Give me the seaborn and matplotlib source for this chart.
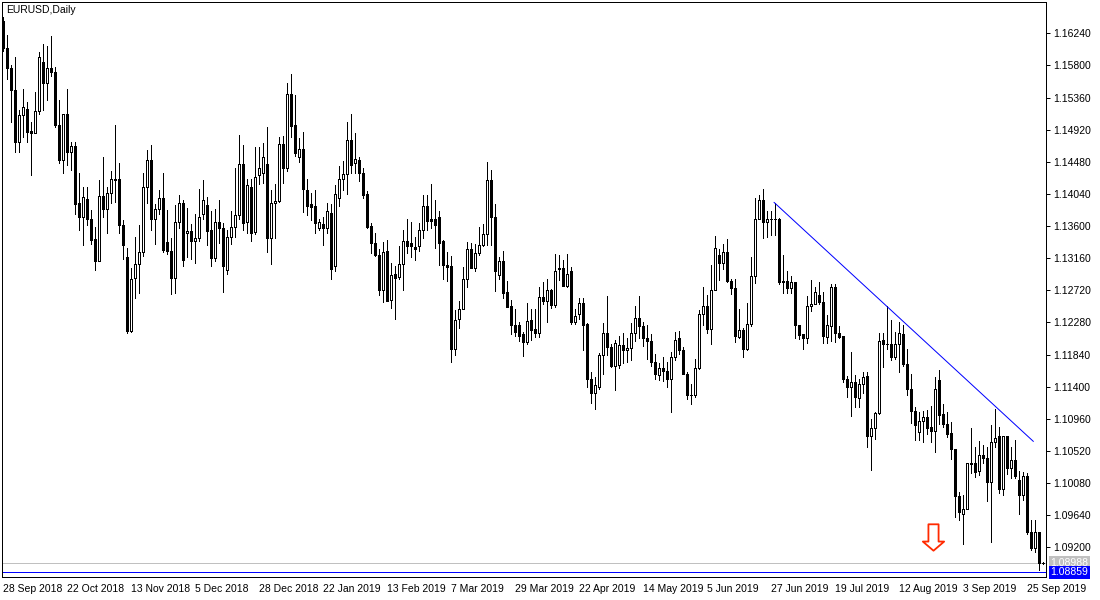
import numpy as np
import pandas as pd
import seaborn as sns
import matplotlib
matplotlib.use('Agg')
import matplotlib.pyplot as plt
from matplotlib.path import Path
from matplotlib.transforms import blended_transform_factory

# EURUSD daily, 28 Sep 2018 .. 1 Oct 2019
opens = [
    1.1641, 1.1604, 1.1577, 1.1546, 1.1475, 1.1512, 1.1520, 1.1490, 1.1488, 1.1517,
    1.1585, 1.1556, 1.1577, 1.1571, 1.1499, 1.1450, 1.1514, 1.1462, 1.1469, 1.1391,
    1.1373, 1.1397, 1.1370, 1.1342, 1.1312, 1.1401, 1.1384, 1.1405, 1.1425, 1.1424,
    1.1362, 1.1317, 1.1216, 1.1289, 1.1308, 1.1324, 1.1413, 1.1451, 1.1369, 1.1383,
    1.1399, 1.1338, 1.1326, 1.1289, 1.1365, 1.1391, 1.1350, 1.1353, 1.1340, 1.1343,
    1.1376, 1.1389, 1.1355, 1.1316, 1.1366, 1.1357, 1.1300, 1.1345, 1.1359, 1.1375,
    1.1445, 1.1365, 1.1414, 1.1352, 1.1430, 1.1432, 1.1445, 1.1343, 1.1391, 1.1394,
    1.1472, 1.1439, 1.1541, 1.1498, 1.1455, 1.1466, 1.1410, 1.1390, 1.1387, 1.1358,
    1.1363, 1.1358, 1.1378, 1.1305, 1.1399, 1.1424, 1.1431, 1.1478, 1.1446, 1.1450,
    1.1433, 1.1404, 1.1360, 1.1337, 1.1320, 1.1273, 1.1326, 1.1259, 1.1294, 1.1290,
    1.1308, 1.1339, 1.1337, 1.1331, 1.1332, 1.1355, 1.1388, 1.1369, 1.1369, 1.1372,
    1.1339, 1.1306, 1.1305, 1.1192, 1.1233, 1.1247, 1.1287, 1.1329, 1.1303, 1.1323,
    1.1334, 1.1349, 1.1423, 1.1372, 1.1293, 1.1312, 1.1269, 1.1250, 1.1225, 1.1225,
    1.1212, 1.1201, 1.1232, 1.1219, 1.1213, 1.1263, 1.1258, 1.1273, 1.1252, 1.1302,
    1.1303, 1.1278, 1.1298, 1.1229, 1.1239, 1.1255, 1.1226, 1.1151, 1.1132, 1.1139,
    1.1183, 1.1214, 1.1194, 1.1169, 1.1170, 1.1197, 1.1190, 1.1193, 1.1214, 1.1234,
    1.1223, 1.1206, 1.1203, 1.1174, 1.1156, 1.1166, 1.1161, 1.1151, 1.1180, 1.1206,
    1.1190, 1.1158, 1.1129, 1.1128, 1.1166, 1.1240, 1.1251, 1.1219, 1.1273, 1.1321,
    1.1310, 1.1324, 1.1285, 1.1275, 1.1208, 1.1217, 1.1192, 1.1226, 1.1292, 1.1369,
    1.1396, 1.1366, 1.1369, 1.1370, 1.1369, 1.1284, 1.1285, 1.1275, 1.1284, 1.1224,
    1.1212, 1.1206, 1.1250, 1.1253, 1.1265, 1.1256, 1.1208, 1.1223, 1.1277, 1.1213,
    1.1209, 1.1151, 1.1139, 1.1147, 1.1125, 1.1143, 1.1154, 1.1073, 1.1084, 1.1104,
    1.1204, 1.1198, 1.1198, 1.1180, 1.1199, 1.1212, 1.1171, 1.1137, 1.1107, 1.1078,
    1.1093, 1.1098, 1.1085, 1.1079, 1.1149, 1.1102, 1.1089, 1.1076, 1.1055, 1.0990,
    1.0965, 1.0973, 1.1035, 1.1035, 1.1025, 1.1047, 1.1043, 1.1009, 1.1064, 1.1072,
    1.1000, 1.1072, 1.1029, 1.1040, 1.1012, 1.0991, 1.1018, 1.0941, 1.0919, 1.0941,
    1.0898,
]
highs = [
    1.1647, 1.1622, 1.1580, 1.1592, 1.1519, 1.1548, 1.1530, 1.1503, 1.1544, 1.1599,
    1.1610, 1.1606, 1.1620, 1.1578, 1.1532, 1.1514, 1.1548, 1.1475, 1.1475, 1.1432,
    1.1414, 1.1413, 1.1382, 1.1359, 1.1423, 1.1455, 1.1414, 1.1436, 1.1498, 1.1447,
    1.1368, 1.1330, 1.1302, 1.1345, 1.1361, 1.1432, 1.1464, 1.1471, 1.1390, 1.1409,
    1.1432, 1.1382, 1.1343, 1.1389, 1.1402, 1.1395, 1.1385, 1.1363, 1.1377, 1.1411,
    1.1423, 1.1400, 1.1380, 1.1384, 1.1395, 1.1364, 1.1354, 1.1380, 1.1440, 1.1485,
    1.1471, 1.1425, 1.1424, 1.1468, 1.1468, 1.1474, 1.1496, 1.1410, 1.1417, 1.1482,
    1.1483, 1.1556, 1.1568, 1.1539, 1.1480, 1.1489, 1.1424, 1.1405, 1.1409, 1.1370,
    1.1372, 1.1392, 1.1390, 1.1416, 1.1442, 1.1449, 1.1502, 1.1513, 1.1488, 1.1455,
    1.1439, 1.1408, 1.1364, 1.1350, 1.1328, 1.1338, 1.1341, 1.1309, 1.1305, 1.1332,
    1.1355, 1.1369, 1.1365, 1.1345, 1.1364, 1.1402, 1.1402, 1.1418, 1.1395, 1.1381,
    1.1341, 1.1324, 1.1319, 1.1245, 1.1257, 1.1304, 1.1338, 1.1337, 1.1335, 1.1359,
    1.1363, 1.1448, 1.1437, 1.1390, 1.1318, 1.1326, 1.1285, 1.1259, 1.1247, 1.1229,
    1.1215, 1.1254, 1.1246, 1.1247, 1.1276, 1.1284, 1.1288, 1.1274, 1.1322, 1.1320,
    1.1313, 1.1322, 1.1304, 1.1247, 1.1261, 1.1261, 1.1227, 1.1160, 1.1153, 1.1186,
    1.1227, 1.1264, 1.1199, 1.1204, 1.1210, 1.1214, 1.1206, 1.1227, 1.1251, 1.1264,
    1.1229, 1.1225, 1.1212, 1.1185, 1.1173, 1.1181, 1.1174, 1.1187, 1.1215, 1.1216,
    1.1195, 1.1160, 1.1143, 1.1178, 1.1245, 1.1277, 1.1266, 1.1307, 1.1346, 1.1329,
    1.1336, 1.1342, 1.1288, 1.1288, 1.1246, 1.1220, 1.1254, 1.1317, 1.1398, 1.1402,
    1.1411, 1.1380, 1.1381, 1.1392, 1.1371, 1.1320, 1.1299, 1.1292, 1.1284, 1.1224,
    1.1212, 1.1264, 1.1286, 1.1276, 1.1284, 1.1270, 1.1238, 1.1280, 1.1281, 1.1223,
    1.1209, 1.1154, 1.1187, 1.1156, 1.1151, 1.1160, 1.1160, 1.1096, 1.1105, 1.1213,
    1.1213, 1.1250, 1.1231, 1.1215, 1.1229, 1.1224, 1.1191, 1.1157, 1.1112, 1.1105,
    1.1107, 1.1108, 1.1113, 1.1153, 1.1163, 1.1116, 1.1105, 1.1092, 1.1055, 1.0996,
    1.0991, 1.1035, 1.1084, 1.1057, 1.1066, 1.1060, 1.1057, 1.1087, 1.1109, 1.1085,
    1.1073, 1.1073, 1.1057, 1.1067, 1.1025, 1.1023, 1.1022, 1.0958, 1.0958, 1.0941,
    1.0900,
]
lows = [
    1.1600, 1.1562, 1.1503, 1.1462, 1.1462, 1.1482, 1.1475, 1.1430, 1.1488, 1.1514,
    1.1519, 1.1533, 1.1565, 1.1495, 1.1447, 1.1432, 1.1443, 1.1437, 1.1376, 1.1354,
    1.1334, 1.1361, 1.1336, 1.1300, 1.1312, 1.1373, 1.1351, 1.1392, 1.1393, 1.1350,
    1.1315, 1.1213, 1.1215, 1.1262, 1.1268, 1.1319, 1.1392, 1.1355, 1.1336, 1.1377,
    1.1325, 1.1322, 1.1267, 1.1268, 1.1358, 1.1305, 1.1318, 1.1315, 1.1309, 1.1340,
    1.1369, 1.1334, 1.1305, 1.1312, 1.1337, 1.1269, 1.1295, 1.1335, 1.1345, 1.1370,
    1.1355, 1.1350, 1.1340, 1.1349, 1.1418, 1.1419, 1.1324, 1.1308, 1.1344, 1.1393,
    1.1419, 1.1436, 1.1482, 1.1456, 1.1448, 1.1379, 1.1375, 1.1368, 1.1351, 1.1355,
    1.1334, 1.1350, 1.1288, 1.1298, 1.1388, 1.1410, 1.1404, 1.1432, 1.1432, 1.1422,
    1.1399, 1.1358, 1.1323, 1.1319, 1.1265, 1.1256, 1.1257, 1.1248, 1.1233, 1.1288,
    1.1273, 1.1323, 1.1318, 1.1314, 1.1326, 1.1343, 1.1354, 1.1358, 1.1330, 1.1307,
    1.1288, 1.1285, 1.1174, 1.1184, 1.1221, 1.1246, 1.1276, 1.1302, 1.1299, 1.1321,
    1.1332, 1.1334, 1.1334, 1.1271, 1.1287, 1.1262, 1.1249, 1.1212, 1.1209, 1.1203,
    1.1182, 1.1198, 1.1204, 1.1208, 1.1208, 1.1253, 1.1229, 1.1248, 1.1249, 1.1286,
    1.1278, 1.1277, 1.1226, 1.1226, 1.1233, 1.1190, 1.1140, 1.1117, 1.1110, 1.1137,
    1.1157, 1.1184, 1.1167, 1.1135, 1.1165, 1.1173, 1.1174, 1.1176, 1.1203, 1.1206,
    1.1196, 1.1178, 1.1168, 1.1151, 1.1149, 1.1148, 1.1140, 1.1106, 1.1177, 1.1185,
    1.1157, 1.1123, 1.1116, 1.1126, 1.1164, 1.1224, 1.1213, 1.1199, 1.1273, 1.1286,
    1.1301, 1.1283, 1.1267, 1.1201, 1.1206, 1.1180, 1.1190, 1.1223, 1.1282, 1.1369,
    1.1344, 1.1345, 1.1348, 1.1348, 1.1281, 1.1268, 1.1268, 1.1268, 1.1206, 1.1205,
    1.1192, 1.1200, 1.1244, 1.1253, 1.1253, 1.1200, 1.1200, 1.1203, 1.1201, 1.1206,
    1.1146, 1.1126, 1.1100, 1.1112, 1.1112, 1.1131, 1.1058, 1.1026, 1.1069, 1.1102,
    1.1167, 1.1192, 1.1176, 1.1178, 1.1160, 1.1169, 1.1128, 1.1090, 1.1067, 1.1067,
    1.1064, 1.1075, 1.1064, 1.1051, 1.1089, 1.1085, 1.1071, 1.1041, 1.0962, 1.0958,
    1.0925, 1.0973, 1.1022, 1.1016, 1.1019, 1.1035, 1.0984, 1.0927, 1.1058, 1.0994,
    1.0991, 1.1021, 1.1015, 1.1015, 1.0966, 1.0985, 1.0938, 1.0916, 1.0914, 1.0889,
    1.0897,
]
closes = [
    1.1604, 1.1577, 1.1546, 1.1475, 1.1512, 1.1523, 1.1489, 1.1488, 1.1517, 1.1591,
    1.1556, 1.1577, 1.1571, 1.1498, 1.1450, 1.1513, 1.1462, 1.1469, 1.1390, 1.1373,
    1.1400, 1.1369, 1.1341, 1.1312, 1.1401, 1.1384, 1.1405, 1.1425, 1.1423, 1.1362,
    1.1334, 1.1216, 1.1288, 1.1308, 1.1324, 1.1413, 1.1451, 1.1369, 1.1383, 1.1399,
    1.1327, 1.1326, 1.1289, 1.1365, 1.1391, 1.1313, 1.1353, 1.1340, 1.1343, 1.1373,
    1.1395, 1.1353, 1.1316, 1.1366, 1.1357, 1.1305, 1.1345, 1.1359, 1.1375, 1.1445,
    1.1364, 1.1416, 1.1350, 1.1427, 1.1439, 1.1455, 1.1343, 1.1392, 1.1394, 1.1473,
    1.1439, 1.1541, 1.1497, 1.1460, 1.1466, 1.1411, 1.1388, 1.1386, 1.1364, 1.1365,
    1.1358, 1.1380, 1.1301, 1.1404, 1.1425, 1.1431, 1.1478, 1.1444, 1.1452, 1.1433,
    1.1403, 1.1359, 1.1337, 1.1320, 1.1273, 1.1324, 1.1258, 1.1293, 1.1289, 1.1308,
    1.1339, 1.1332, 1.1332, 1.1328, 1.1355, 1.1387, 1.1367, 1.1367, 1.1362, 1.1337,
    1.1306, 1.1304, 1.1191, 1.1232, 1.1247, 1.1287, 1.1329, 1.1303, 1.1323, 1.1334,
    1.1349, 1.1423, 1.1372, 1.1299, 1.1312, 1.1268, 1.1249, 1.1224, 1.1215, 1.1210,
    1.1201, 1.1230, 1.1218, 1.1214, 1.1263, 1.1258, 1.1272, 1.1252, 1.1298, 1.1301,
    1.1278, 1.1294, 1.1229, 1.1237, 1.1255, 1.1225, 1.1150, 1.1131, 1.1142, 1.1184,
    1.1213, 1.1194, 1.1169, 1.1200, 1.1197, 1.1190, 1.1193, 1.1214, 1.1234, 1.1223,
    1.1206, 1.1203, 1.1174, 1.1157, 1.1166, 1.1161, 1.1151, 1.1180, 1.1204, 1.1190,
    1.1158, 1.1129, 1.1128, 1.1166, 1.1240, 1.1251, 1.1219, 1.1273, 1.1330, 1.1310,
    1.1324, 1.1285, 1.1275, 1.1210, 1.1217, 1.1192, 1.1226, 1.1292, 1.1369, 1.1396,
    1.1366, 1.1369, 1.1370, 1.1370, 1.1284, 1.1285, 1.1275, 1.1284, 1.1224, 1.1211,
    1.1206, 1.1250, 1.1253, 1.1269, 1.1256, 1.1210, 1.1224, 1.1277, 1.1213, 1.1208,
    1.1151, 1.1139, 1.1147, 1.1126, 1.1143, 1.1153, 1.1073, 1.1084, 1.1104, 1.1202,
    1.1198, 1.1198, 1.1180, 1.1199, 1.1213, 1.1171, 1.1137, 1.1107, 1.1087, 1.1093,
    1.1098, 1.1084, 1.1079, 1.1137, 1.1101, 1.1089, 1.1075, 1.1055, 1.0990, 1.0968,
    1.0973, 1.1035, 1.1034, 1.1023, 1.1047, 1.1043, 1.1009, 1.1064, 1.1070, 1.1000,
    1.1072, 1.1029, 1.1040, 1.1017, 1.0991, 1.1018, 1.0941, 1.0919, 1.0941, 1.0898,
    1.08988,
]

date_labels = ["28 Sep 2018", "22 Oct 2018", "13 Nov 2018", "5 Dec 2018", "28 Dec 2018",
               "22 Jan 2019", "13 Feb 2019", "7 Mar 2019", "29 Mar 2019", "22 Apr 2019",
               "14 May 2019", "5 Jun 2019", "27 Jun 2019", "19 Jul 2019", "12 Aug 2019",
               "3 Sep 2019", "25 Sep 2019"]
price_labels = ["1.09200", "1.09640", "1.10080", "1.10520", "1.10960", "1.11400",
                "1.11840", "1.12280", "1.12720", "1.13160", "1.13600", "1.14040",
                "1.14480", "1.14920", "1.15360", "1.15800", "1.16240"]

bid_price = 1.08988
line_price = 1.08859
trend_bars = [192.75, 257.6]
trend_prices = [1.13925, 1.1065]
arrow_bar = 232.6
arrow_price = 1.0934

df = pd.DataFrame({'open': opens, 'high': highs, 'low': lows, 'close': closes})
df['bar'] = np.arange(len(df))
up = df[df['close'] >= df['open']]
down = df[df['close'] < df['open']]

sns.set_style("white")
plt.rcParams['font.family'] = ['Liberation Sans', 'DejaVu Sans']

fig = plt.figure(figsize=(11, 6), dpi=100)
fig.patch.set_facecolor('white')
ax = fig.add_axes([2 / 1100, 1 - 577 / 600, 1044 / 1100, 575 / 600])
px = 0.72  # one pixel in points

# wicks then bodies
ax.vlines(df['bar'], df['low'], df['high'], color='black', lw=px, antialiased=False, zorder=2)
ax.bar(up['bar'], up['close'] - up['open'], bottom=up['open'], width=0.55,
       facecolor='white', edgecolor='black', lw=px, antialiased=False, zorder=3)
ax.bar(down['bar'], down['open'] - down['close'], bottom=down['close'], width=0.55,
       facecolor='black', edgecolor='black', lw=px, antialiased=False, zorder=3)

# trend line
sns.lineplot(x=trend_bars, y=trend_prices, ax=ax, color='#0000ff', lw=px, zorder=4)

# bid line + horizontal line
ax.axhline(bid_price, color='#c0c0c0', lw=px, antialiased=False, zorder=1)
ax.axhline(line_price, color='#0000ff', lw=px, antialiased=False, zorder=1)

# hollow red down arrow
arrow_path = Path([(-5, 13), (5, 13), (5, -4), (10.5, -4), (0, -13), (-10.5, -4), (-5, -4), (-5, 13)],
                  [Path.MOVETO] + [Path.LINETO] * 6 + [Path.CLOSEPOLY])
ax.plot([arrow_bar], [arrow_price], marker=arrow_path, markersize=19, mfc='white',
        mec='#ff2a00', mew=1.3, ls='none', zorder=5)

ax.set_xlim(-0.25, 260.75)
ax.set_ylim(1.087933, 1.166687)

ax.set_xticks(np.arange(0, 16 * len(date_labels), 16))
ax.set_xticklabels(date_labels)
for lab in ax.get_xticklabels():
    lab.set_ha('left')
ax.tick_params(axis='x', direction='out', length=3, width=px, pad=2, labelsize=7.5, colors='black')

ax.yaxis.tick_right()
ax.set_yticks([float(p) for p in price_labels])
ax.set_yticklabels(price_labels)
ax.tick_params(axis='y', direction='out', length=3, width=px, pad=2, labelsize=7.5, colors='black')

for sp in ax.spines.values():
    sp.set_color('black')
    sp.set_linewidth(px)

# price tags on the right scale
tr = blended_transform_factory(ax.transAxes, ax.transData)
ax.text(1.0045, bid_price, f"{bid_price:.5f}", transform=tr, ha='left', va='center',
        fontsize=7.5, color='white', clip_on=False,
        bbox=dict(boxstyle='square,pad=0.15', fc='#c0c0c0', ec='none'))
ax.text(1.0045, line_price, f"{line_price:.5f}", transform=tr, ha='left', va='center',
        fontsize=7.5, color='white', clip_on=False,
        bbox=dict(boxstyle='square,pad=0.15', fc='#0000ff', ec='none'))

fig.text(6 / 1100, 1 - 5 / 600, "EURUSD,Daily", ha='left', va='top', fontsize=7.5, color='black')

fig.savefig('out.png', dpi=100, facecolor='white')
